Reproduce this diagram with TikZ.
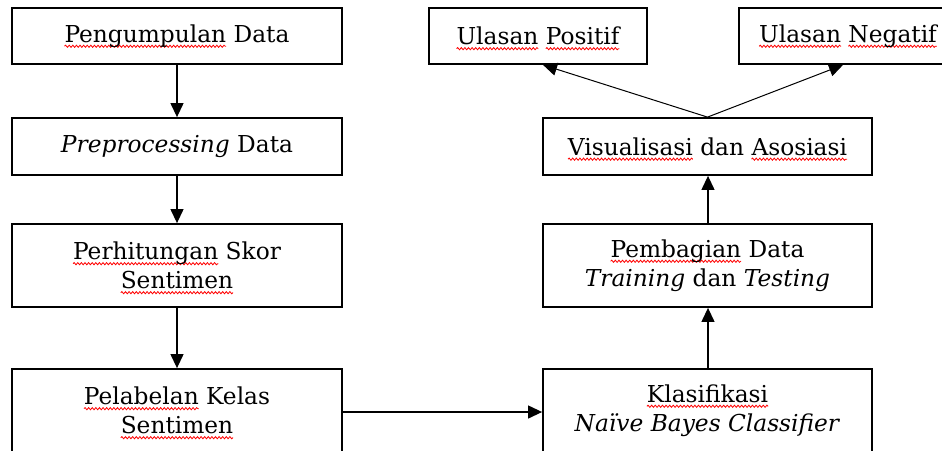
\documentclass[tikz,border=0pt]{standalone}
\usepackage{fontspec}
\setmainfont{DejaVu Serif}
\usetikzlibrary{arrows.meta,decorations.pathmorphing}

\tikzset{
  stepbox/.style={draw, line width=1.8pt, minimum width=330pt, align=center,
    inner sep=0pt, font=\fontsize{23.3}{29}\selectfont},
  flow/.style={line width=1.2pt, -{Triangle[length=14pt,width=13pt]}},
  wavy/.style={draw=red, line width=0.8pt, decorate,
    decoration={snake, amplitude=1.1pt, segment length=3.6pt}},
}

% red wavy underline under a single word
\newsavebox\wvbox
\newcommand\wv[1]{\sbox\wvbox{#1}\tikz[overlay,baseline=0pt]\draw[wavy] (0pt,-4pt) -- (\wd\wvbox,-4pt);\usebox\wvbox}

\begin{document}
\begin{tikzpicture}[x=1pt,y=1pt]
\useasboundingbox (0,0) rectangle (942,-450);

% left column
\node[stepbox, minimum height=56pt] (b1) at (177,-36) {\wv{Pengumpulan} Data};
\node[stepbox, minimum height=57pt] (b2) at (177,-146.5) {\textit{Preprocessing} Data};
\node[stepbox, minimum height=83pt] (b3) at (177,-265.5) {\wv{Perhitungan} Skor\\\wv{Sentimen}};
\node[stepbox, minimum height=83pt] (b4) at (177,-410.5) {\wv{Pelabelan} Kelas\\\wv{Sentimen}};

% right column
\node[stepbox, minimum width=329pt, minimum height=83pt] (klas) at (707.5,-410.5) {\wv{Klasifikasi}\\\textit{Naïve Bayes Classifier}};
\node[stepbox, minimum width=329pt, minimum height=83pt] (pemb) at (707.5,-265.5) {\wv{Pembagian} Data\\\textit{Training} dan \textit{Testing}};
\node[stepbox, minimum width=329pt, minimum height=57pt] (vis) at (707.5,-146.5) {\wv{Visualisasi} dan \wv{Asosiasi}};
\node[stepbox, minimum width=218pt, minimum height=56pt] (pos) at (538,-36) {\wv{Ulasan} \wv{Positif}};
\node[stepbox, minimum width=218pt, minimum height=56pt] (neg) at (848,-36) {\wv{Ulasan} \wv{Negatif}};

% connectors
\draw[flow] (b1.south) -- (b2.north);
\draw[flow] (b2.south) -- (b3.north);
\draw[flow] (b3.south) -- (b4.north);
\draw[flow] (b4.east |- 0,-412) -- (klas.west |- 0,-412);
\draw[flow] ([xshift=0.5pt]klas.north) -- ([xshift=0.5pt]pemb.south);
\draw[flow] ([xshift=0.5pt]pemb.north) -- ([xshift=0.5pt]vis.south);
\draw[flow, line width=1pt] (vis.north) -- ([xshift=5pt]pos.south);
\draw[flow, line width=1pt] (vis.north) -- ([xshift=-5pt]neg.south);
\end{tikzpicture}
\end{document}
